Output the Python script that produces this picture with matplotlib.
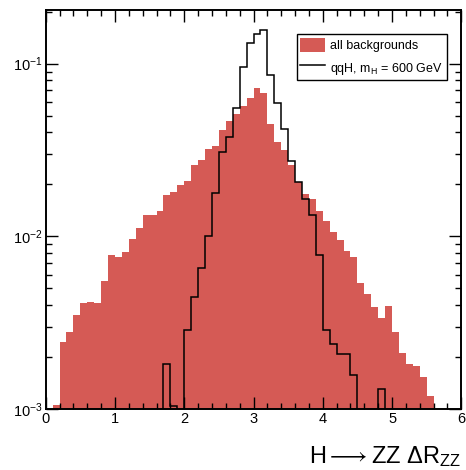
import numpy as np
import matplotlib
matplotlib.use('Agg')
import matplotlib.pyplot as plt
from matplotlib.ticker import LogLocator, MultipleLocator, NullFormatter

plt.rcParams['font.family'] = ['Liberation Sans', 'DejaVu Sans']
plt.rcParams['mathtext.fontset'] = 'custom'
plt.rcParams['mathtext.rm'] = 'Liberation Sans'
plt.rcParams['mathtext.it'] = 'Liberation Sans'
plt.rcParams['mathtext.bf'] = 'Liberation Sans:bold'

# bin edges 0..6 in steps of 0.1
edges = np.round(np.arange(0, 6.01, 0.1), 2)

# all backgrounds (normalised), one value per bin
bkg = [0, 1.05e-3, 2.44e-3, 2.79e-3, 3.49e-3, 4.13e-3, 4.17e-3, 4.12e-3, 5.49e-3, 7.76e-3,
       7.59e-3, 8.11e-3, 9.61e-3, 1.11e-2, 1.32e-2, 1.33e-2, 1.41e-2, 1.73e-2, 1.80e-2, 1.99e-2,
       2.08e-2, 2.60e-2, 2.78e-2, 3.19e-2, 3.33e-2, 4.11e-2, 4.66e-2, 5.13e-2, 5.66e-2, 6.30e-2,
       7.22e-2, 6.76e-2, 4.45e-2, 3.52e-2, 3.15e-2, 2.60e-2, 2.06e-2, 1.75e-2, 1.65e-2, 1.40e-2,
       1.23e-2, 1.06e-2, 9.57e-3, 8.22e-3, 7.59e-3, 5.33e-3, 4.61e-3, 3.90e-3, 3.36e-3, 3.93e-3,
       2.79e-3, 2.11e-3, 1.83e-3, 1.77e-3, 1.53e-3, 1.18e-3, 0, 0, 0, 0]

# qqH signal, m_H = 600 GeV
sig = [0, 0, 0, 0, 0, 0, 0, 0, 0, 0,
       0, 0, 0, 0, 0, 0, 0, 1.83e-3, 1.04e-3, 0,
       2.86e-3, 4.45e-3, 6.55e-3, 1.01e-2, 1.79e-2, 3.08e-2, 3.76e-2, 5.53e-2, 9.56e-2, 0.1323,
       0.149, 0.157, 8.56e-2, 5.95e-2, 4.20e-2, 2.72e-2, 2.06e-2, 1.64e-2, 1.32e-2, 7.83e-3,
       2.88e-3, 2.39e-3, 2.07e-3, 2.07e-3, 1.57e-3, 0, 0, 0, 1.31e-3, 0,
       0, 0, 0, 0, 0, 0, 0, 0, 0, 0]

floor = 1e-5
bkg_d = np.where(np.array(bkg) > 0, bkg, floor)
sig_d = np.where(np.array(sig) > 0, sig, floor)

fig = plt.figure(figsize=(4.66, 4.70), dpi=100)
ax = fig.add_axes([0.098, 0.13, 0.892, 0.849])

ax.stairs(bkg_d, edges, fill=True, baseline=floor, color='#d55a55', linewidth=0,
          label='all backgrounds')
ax.stairs(sig_d, edges, baseline=None, color='black', linewidth=1.1,
          label='qqH, m$_{\\mathregular{H}}$ = 600 GeV')

ax.set_yscale('log')
ax.set_xlim(0, 6)
ax.set_ylim(1e-3, 0.205)

ax.xaxis.set_major_locator(MultipleLocator(1))
ax.xaxis.set_minor_locator(MultipleLocator(0.2))
ax.yaxis.set_major_locator(LogLocator(base=10, numticks=10))
ax.yaxis.set_minor_locator(LogLocator(base=10, subs=np.arange(2, 10), numticks=20))
ax.yaxis.set_minor_formatter(NullFormatter())

ax.tick_params(which='both', direction='in', top=True, right=True, width=1.0)
ax.tick_params(which='major', length=8.5)
ax.tick_params(which='minor', length=4)
ax.tick_params(axis='x', labelsize=10.5, pad=2)
ax.tick_params(axis='y', labelsize=10.5, pad=2)
for s in ax.spines.values():
    s.set_linewidth(1.4)

ax.set_xlabel('H$\\longrightarrow$ZZ $\\Delta$R$_{\\mathregular{ZZ}}$', fontsize=17, loc='right')
ax.xaxis.set_label_coords(1.0, -0.087)

leg = ax.legend(loc='upper right', bbox_to_anchor=(0.965, 0.94), borderaxespad=0,
                fontsize=9, frameon=True, fancybox=False, edgecolor='black', framealpha=1,
                handlelength=2.0, handleheight=1.35, handletextpad=0.4,
                borderpad=0.3, labelspacing=0.7)
leg.get_frame().set_linewidth(1.0)

fig.savefig('out.png', dpi=100)
